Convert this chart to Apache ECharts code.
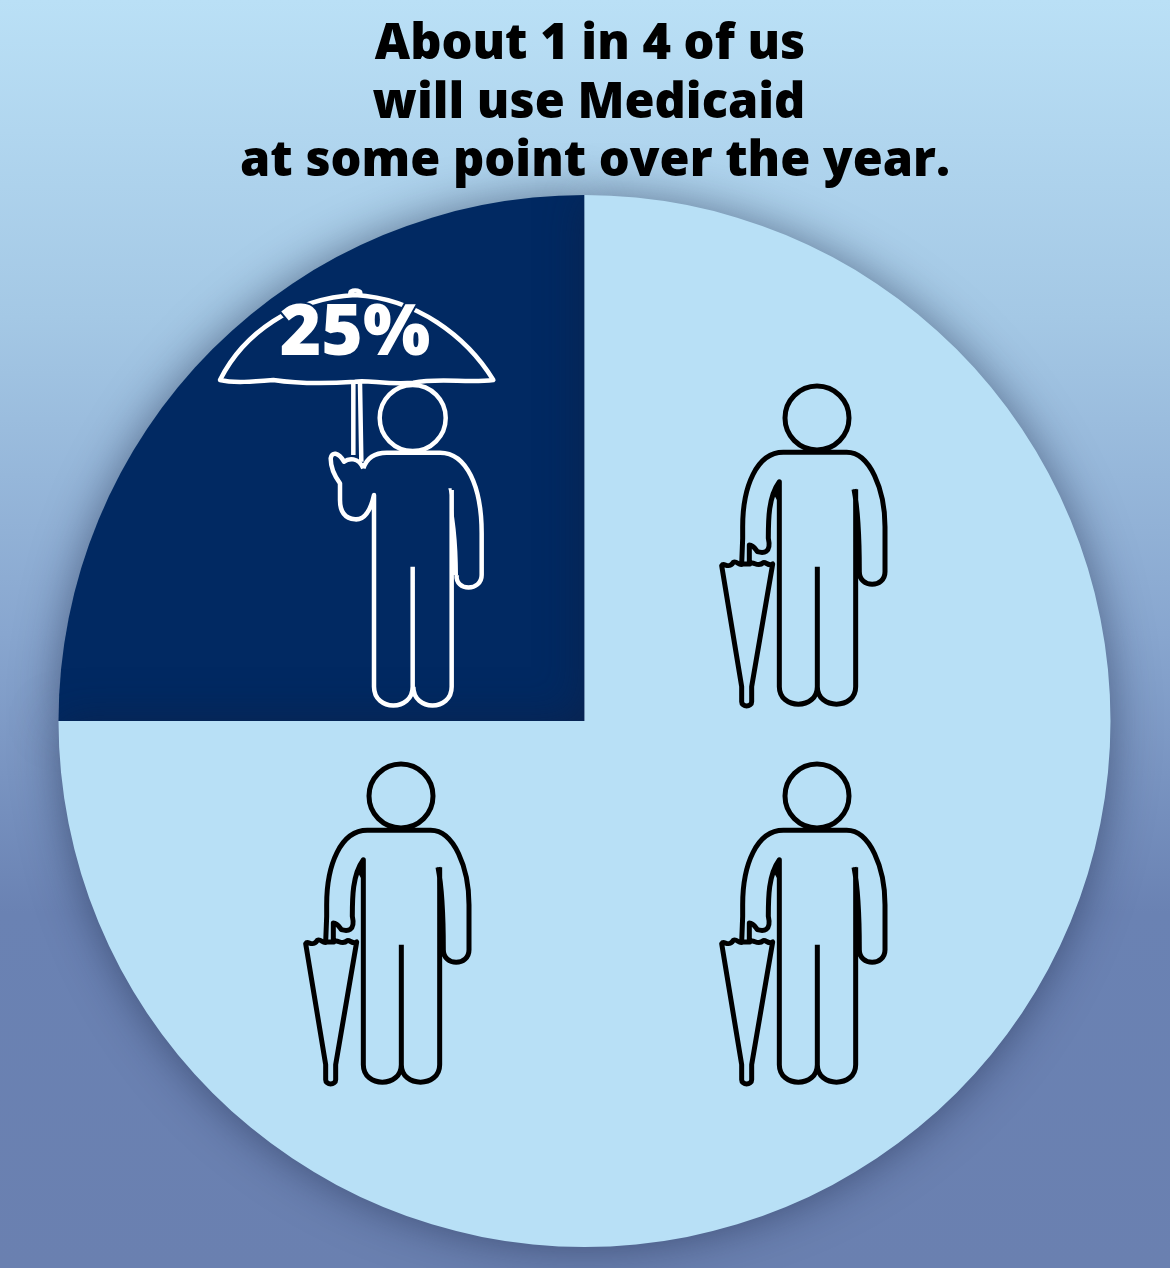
<!DOCTYPE html>
<html><head><meta charset="utf-8">
<style>html,body{margin:0;padding:0;background:#6a82b3}#c{width:1170px;height:1268px}</style>
<script src="https://cdn.jsdelivr.net/npm/echarts@6/dist/echarts.min.js"></script>
</head><body><div id="c"></div>
<script>
const titleLines = ['About 1 in 4 of us','will use Medicaid','at some point over the year.'];
const titleLefts = [585,584,590];
const titleTops = [11,69.5,128];
const sliceNames = ['Use Medicaid','Do not use Medicaid'];
const sliceValues = [25,75];
const sliceColors = ['#012962','#b8e0f6'];
const highlightLabel = '25%';

const bodyBlack = 'M250 247 L440 247 C510 247 555 360 555 470 L555 605 C555 655 478 655 478 605 C478 480 472 410 462 358 M467 358 L467 950 C467 1020 352 1020 352 950 M352 590 L352 950 C352 1020 238 1020 238 950 L238 335 C205 380 205 450 205 505 C215 550 190 550 172 545 C165 535 160 525 148 525 L148 582 M250 247 C170 247 128 350 128 470 L128 505 L125 582 M65 587 C72 575 85 600 100 577 C110 570 118 590 128 582 L150 582 C160 570 172 595 190 578 C198 575 205 590 218 582 L155 950 L155 995 C155 1012 125 1012 125 995 L125 950 Z';
const wedgeBlack = 'M460 355 C474 410 482 480 482 600 L467 600 Z M243 330 L243 410 L222 375 Z';
const bodyWhite = 'M60 300 C130 160 280 55 465 45 C650 55 800 170 880 300 C800 310 720 292 640 308 C560 315 500 298 465 305 C400 310 300 312 220 300 C160 305 100 310 60 300 Z M450 45 L452 35 Q465 28 480 35 L482 45 M460 310 L460 525 M480 310 L484 545 M490 565 C500 535 520 518 560 518 L720 518 C800 518 845 620 845 760 L845 885 C845 935 765 935 770 885 M755 630 L755 1220 C755 1295 640 1295 640 1220 M638 860 L638 1220 C638 1295 522 1295 522 1220 L522 645 C510 700 490 720 465 718 C430 715 420 690 420 660 L420 610 C405 590 392 560 392 535 C395 515 415 515 432 545 C445 535 475 530 490 565';
const wedgeWhite = 'M745 625 C765 700 774 790 774 885 L755 885 L755 625 Z';

function mapped(d, ox, oy){
  return d.replace(/(-?\d+(?:\.\d+)?) (-?\d+(?:\.\d+)?)/g,(m,a,b)=>(ox+a/3).toFixed(2)+' '+(oy+b/3).toFixed(2));
}
const figures = [
  {kind:'white', ox:200, oy:280, w:310, h:440},
  {kind:'black', ox:700, oy:370, w:200, h:350},
  {kind:'black', ox:284, oy:748, w:200, h:350},
  {kind:'black', ox:700, oy:748, w:200, h:350}
];
function pathEl(d, x,y,w,h, color, lw, fill){
  return {type:'path', shape:{pathData:'M'+x+' '+y+' M'+(x+w)+' '+(y+h)+' '+d, x:x,y:y,width:w,height:h, layout:'cover'},
    style:{fill:fill||null, stroke:fill?null:color, lineWidth:lw, lineJoin:'round'}};
}
const chart = echarts.init(document.getElementById('c'), null, {renderer:'canvas'});
chart.setOption({
  animation:false,
  backgroundColor:{type:'linear',x:0,y:0,x2:0,y2:1,colorStops:[
    {offset:0,color:'#bae0f6'},{offset:0.25,color:'#a4c8e5'},{offset:0.5,color:'#88a6cf'},{offset:0.72,color:'#6a82b3'},{offset:1,color:'#6a80b0'}]},
  title:titleLines.map((t,i)=>({text:t, left:titleLefts[i], top:titleTops[i], textAlign:'center',
    textStyle:{fontFamily:'Open Sans',fontWeight:800,fontSize:48.7,lineHeight:58.5,color:'#000'}})),
  series:[
    {type:'pie', center:[584.5,721], radius:[0,526], startAngle:180, clockwise:true, silent:true,
     label:{show:false}, labelLine:{show:false},
     itemStyle:{shadowBlur:45,shadowColor:'rgba(20,30,60,0.5)'},
     data:sliceNames.map((n,i)=>({name:n,value:sliceValues[i],itemStyle:{color:sliceColors[i]}}))},
    {type:'custom', coordinateSystem:'none', silent:true, z:5, data:figures.map((f,i)=>i),
     renderItem:function(p){
       const f = figures[p.dataIndex];
       if(f.kind==='black'){
         return {type:'group',children:[
           {type:'circle',shape:{cx:f.ox+117,cy:f.oy+48,r:32},style:{fill:null,stroke:'#000',lineWidth:5}},
           pathEl(mapped(bodyBlack,f.ox,f.oy),f.ox,f.oy,f.w,f.h,'#000',5),
           pathEl(mapped(wedgeBlack,f.ox,f.oy),f.ox,f.oy,f.w,f.h,'#000',0,'#000')
         ]};
       }
       return {type:'group',children:[
         pathEl(mapped(bodyWhite,f.ox,f.oy),f.ox,f.oy,f.w,f.h,'#fff',4.5),
         pathEl(mapped(wedgeWhite,f.ox,f.oy),f.ox,f.oy,f.w,f.h,'#fff',0,'#fff'),
         {type:'circle',shape:{cx:f.ox+212.7,cy:f.oy+138,r:33},style:{fill:null,stroke:'#fff',lineWidth:4.5}},
         {type:'text',x:355,y:335,style:{text:highlightLabel,fontFamily:'Open Sans',fontWeight:800,fontSize:71,fill:'#fff',
           stroke:'#012962',lineWidth:4,align:'center',verticalAlign:'middle'}}
       ]};
     }}
  ]
});
</script></body></html>
